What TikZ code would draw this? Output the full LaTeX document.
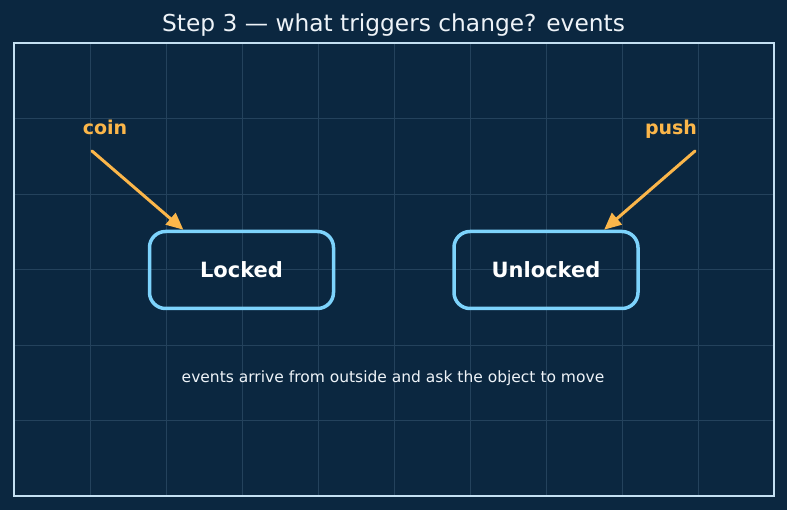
\documentclass[tikz,border=0pt]{standalone}
\usepackage{fontspec}
\setmainfont{DejaVu Sans}
\usetikzlibrary{arrows.meta,calc}
\definecolor{bg}{RGB}{11,39,64}
\definecolor{gridc}{RGB}{36,66,92}
\definecolor{framec}{RGB}{196,224,242}
\definecolor{stateb}{RGB}{125,211,252}
\definecolor{evc}{RGB}{251,182,74}
\definecolor{txt}{RGB}{238,243,248}
\tikzset{
  statebox/.style={draw=stateb, line width=3.5pt, rounded corners=16pt,
    minimum width=184pt, minimum height=77pt, inner sep=0pt,
    text=white, font=\fontsize{21}{25}\selectfont\bfseries},
  evlabel/.style={text=evc, font=\fontsize{19}{23}\selectfont\bfseries, inner sep=0pt, anchor=base},
  evarrow/.style={draw=evc, line width=3pt, line cap=round,
    -{Triangle[length=17pt,width=15pt]}},
  gridline/.style={draw=gridc, line width=0.8pt},
  framebox/.style={draw=framec, line width=2pt}
}
\begin{document}
\begin{tikzpicture}[x=1pt,y=-1pt]
\fill[bg] (0,0) rectangle (787,510);
\useasboundingbox (0,0) rectangle (787,510);
% grid
\foreach \k in {1,...,9} {\draw[gridline] ({14+76*\k},43) -- ({14+76*\k},496);}
\foreach \k in {1,...,5} {\draw[gridline] (14,{496-75.5*\k}) -- (774,{496-75.5*\k});}
\draw[framebox] (14,43) rectangle (774,496);
% title
\node[text=txt, font=\fontsize{23.3}{27}\selectfont, inner sep=0pt] (title) at (393.5,25) {Step 3 — what triggers change? events};
% states
\node[statebox] (locked) at (241.5,270) {Locked};
\node[statebox] (unlocked) at (546,270) {Unlocked};
% events
\node[evlabel] (coin) at (105,134.5) {coin};
\node[evlabel] (push) at (671,134.5) {push};
\coordinate (coinS) at (92,151);
\coordinate (pushS) at (695,151);
\draw[evarrow] (coinS) -- ($(locked.north west)!0.19!(locked.north east)$);
\draw[evarrow] (pushS) -- ($(unlocked.north west)!0.81!(unlocked.north east)$);
% caption
\node[text=txt, font=\fontsize{15.5}{18}\selectfont, inner sep=0pt] (caption) at (393,378) {events arrive from outside and ask the object to move};
\end{tikzpicture}
\end{document}
